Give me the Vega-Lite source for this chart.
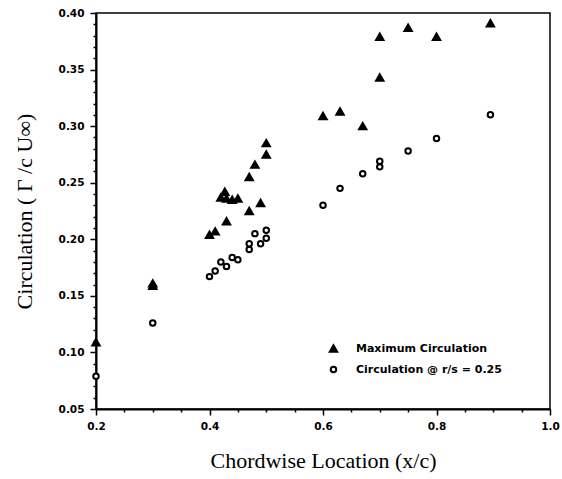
{
  "$schema": "https://vega.github.io/schema/vega-lite/v6.json",
  "width": 454,
  "height": 396,
  "autosize": {"type": "none"},
  "padding": {"left": 96, "top": 13, "right": 12, "bottom": 70},
  "background": "white",
  "config": {
    "view": {"stroke": "black", "strokeWidth": 1.5},
    "axis": {
      "domainColor": "black", "domainWidth": 2, "tickColor": "black", "grid": false,
      "labelFont": "DejaVu Sans", "labelFontWeight": "bold", "labelFontSize": 10.5, "labelColor": "black",
      "titleFont": "Liberation Serif", "titleFontWeight": "normal", "titleFontSize": 22, "titleColor": "black"
    },
    "legend": {
      "labelFont": "DejaVu Sans", "labelFontWeight": "bold", "labelFontSize": 11, "labelColor": "black",
      "symbolStrokeColor": "black", "symbolStrokeWidth": 2, "labelOffset": 17, "rowPadding": 6
    }
  },
  "data": {"values": [
    {"x": 0.2, "y": 0.109, "s": "Maximum Circulation"},
    {"x": 0.3, "y": 0.159, "s": "Maximum Circulation"},
    {"x": 0.3, "y": 0.161, "s": "Maximum Circulation"},
    {"x": 0.40, "y": 0.204, "s": "Maximum Circulation"},
    {"x": 0.41, "y": 0.207, "s": "Maximum Circulation"},
    {"x": 0.43, "y": 0.216, "s": "Maximum Circulation"},
    {"x": 0.42, "y": 0.237, "s": "Maximum Circulation"},
    {"x": 0.427, "y": 0.242, "s": "Maximum Circulation"},
    {"x": 0.43, "y": 0.236, "s": "Maximum Circulation"},
    {"x": 0.44, "y": 0.235, "s": "Maximum Circulation"},
    {"x": 0.45, "y": 0.236, "s": "Maximum Circulation"},
    {"x": 0.47, "y": 0.225, "s": "Maximum Circulation"},
    {"x": 0.47, "y": 0.255, "s": "Maximum Circulation"},
    {"x": 0.48, "y": 0.266, "s": "Maximum Circulation"},
    {"x": 0.49, "y": 0.232, "s": "Maximum Circulation"},
    {"x": 0.50, "y": 0.275, "s": "Maximum Circulation"},
    {"x": 0.50, "y": 0.285, "s": "Maximum Circulation"},
    {"x": 0.60, "y": 0.309, "s": "Maximum Circulation"},
    {"x": 0.63, "y": 0.313, "s": "Maximum Circulation"},
    {"x": 0.67, "y": 0.300, "s": "Maximum Circulation"},
    {"x": 0.70, "y": 0.343, "s": "Maximum Circulation"},
    {"x": 0.70, "y": 0.379, "s": "Maximum Circulation"},
    {"x": 0.75, "y": 0.387, "s": "Maximum Circulation"},
    {"x": 0.80, "y": 0.379, "s": "Maximum Circulation"},
    {"x": 0.895, "y": 0.391, "s": "Maximum Circulation"},
    {"x": 0.2, "y": 0.079, "s": "Circulation @ r/s = 0.25"},
    {"x": 0.3, "y": 0.126, "s": "Circulation @ r/s = 0.25"},
    {"x": 0.40, "y": 0.167, "s": "Circulation @ r/s = 0.25"},
    {"x": 0.41, "y": 0.172, "s": "Circulation @ r/s = 0.25"},
    {"x": 0.42, "y": 0.180, "s": "Circulation @ r/s = 0.25"},
    {"x": 0.43, "y": 0.176, "s": "Circulation @ r/s = 0.25"},
    {"x": 0.44, "y": 0.184, "s": "Circulation @ r/s = 0.25"},
    {"x": 0.45, "y": 0.182, "s": "Circulation @ r/s = 0.25"},
    {"x": 0.47, "y": 0.191, "s": "Circulation @ r/s = 0.25"},
    {"x": 0.47, "y": 0.196, "s": "Circulation @ r/s = 0.25"},
    {"x": 0.48, "y": 0.205, "s": "Circulation @ r/s = 0.25"},
    {"x": 0.49, "y": 0.196, "s": "Circulation @ r/s = 0.25"},
    {"x": 0.50, "y": 0.201, "s": "Circulation @ r/s = 0.25"},
    {"x": 0.50, "y": 0.208, "s": "Circulation @ r/s = 0.25"},
    {"x": 0.60, "y": 0.230, "s": "Circulation @ r/s = 0.25"},
    {"x": 0.63, "y": 0.245, "s": "Circulation @ r/s = 0.25"},
    {"x": 0.67, "y": 0.258, "s": "Circulation @ r/s = 0.25"},
    {"x": 0.70, "y": 0.264, "s": "Circulation @ r/s = 0.25"},
    {"x": 0.70, "y": 0.269, "s": "Circulation @ r/s = 0.25"},
    {"x": 0.75, "y": 0.278, "s": "Circulation @ r/s = 0.25"},
    {"x": 0.80, "y": 0.289, "s": "Circulation @ r/s = 0.25"},
    {"x": 0.895, "y": 0.310, "s": "Circulation @ r/s = 0.25"}
  ]},
  "mark": {"type": "point", "clip": false, "strokeWidth": 2, "opacity": 1},
  "encoding": {
    "x": {
      "field": "x", "type": "quantitative",
      "scale": {"domain": [0.2, 1.0], "nice": false, "zero": false},
      "axis": {
        "title": "Chordwise Location (x/c)",
        "values": [0.2, 0.25, 0.3, 0.35, 0.4, 0.45, 0.5, 0.55, 0.6, 0.65, 0.7, 0.75, 0.8, 0.85, 0.9, 0.95, 1.0],
        "labelExpr": "round(datum.value*100) % 20 == 0 ? format(datum.value, '.1f') : ''",
        "tickSize": {"condition": {"test": "round(datum.value*100) % 20 == 0", "value": 6}, "value": 3},
        "tickWidth": 1.5,
        "labelPadding": 6,
        "titlePadding": 19,
        "labelFlush": false,
        "labelOverlap": false
      }
    },
    "y": {
      "field": "y", "type": "quantitative",
      "scale": {"domain": [0.05, 0.40], "nice": false, "zero": false},
      "axis": {
        "title": "Circulation  ( Γ /c U∞)",
        "values": [0.05, 0.06, 0.07, 0.08, 0.09, 0.10, 0.11, 0.12, 0.13, 0.14, 0.15, 0.16, 0.17, 0.18, 0.19, 0.20, 0.21, 0.22, 0.23, 0.24, 0.25, 0.26, 0.27, 0.28, 0.29, 0.30, 0.31, 0.32, 0.33, 0.34, 0.35, 0.36, 0.37, 0.38, 0.39, 0.40],
        "labelExpr": "round(datum.value*100) % 5 == 0 ? format(datum.value, '.2f') : ''",
        "tickSize": {"condition": {"test": "round(datum.value*100) % 5 == 0", "value": 6}, "value": 3},
        "tickWidth": 1.5,
        "labelPadding": 6,
        "titlePadding": 22,
        "labelFlush": false,
        "labelOverlap": false
      }
    },
    "shape": {
      "field": "s", "type": "nominal",
      "scale": {"domain": ["Maximum Circulation", "Circulation @ r/s = 0.25"], "range": ["triangle-up", "circle"]},
      "legend": {"title": null, "orient": "none", "legendX": 232, "legendY": 330}
    },
    "fill": {
      "field": "s", "type": "nominal",
      "scale": {"domain": ["Maximum Circulation", "Circulation @ r/s = 0.25"], "range": ["black", "white"]},
      "legend": {"title": null, "orient": "none", "legendX": 232, "legendY": 330}
    },
    "stroke": {
      "field": "s", "type": "nominal",
      "scale": {"domain": ["Maximum Circulation", "Circulation @ r/s = 0.25"], "range": ["black", "black"]},
      "legend": {"title": null, "orient": "none", "legendX": 232, "legendY": 330}
    },
    "size": {
      "field": "s", "type": "nominal",
      "scale": {"domain": ["Maximum Circulation", "Circulation @ r/s = 0.25"], "range": [55, 30]},
      "legend": {"title": null, "orient": "none", "legendX": 232, "legendY": 330}
    }
  }
}
